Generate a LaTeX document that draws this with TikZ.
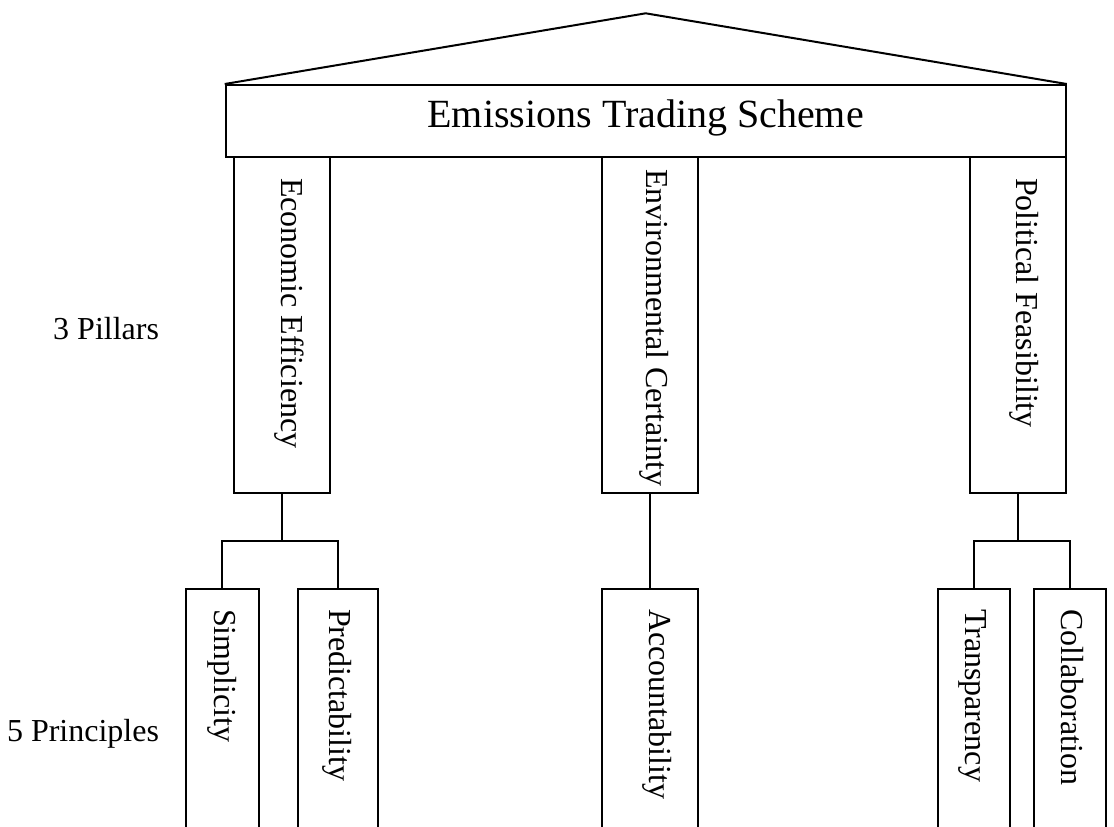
\documentclass[tikz,border=0pt]{standalone}
\usepackage{fontspec}
\setmainfont{Liberation Serif}
\begin{document}
\begin{tikzpicture}[x=0.5pt,y=-0.5pt,
  line width=1pt,
  box/.style={draw, rectangle, inner sep=0pt, line width=1pt},
  vtext/.style={rotate=-90, anchor=west, inner sep=0pt,
    font=\fontsize{16}{19}\selectfont, text height=0.66em, text depth=0.217em},
  sidelabel/.style={anchor=base east, inner sep=0pt, font=\fontsize{16}{19}\selectfont}
]
\useasboundingbox (0,0) rectangle (1114,826);
\clip (0,0) rectangle (1114,826);

% entablature with title
\node[box, minimum width=420pt, minimum height=36pt,
  font=\fontsize{20}{24}\selectfont, text height=0.66em, text depth=0pt]
  (title) at (645.7,121) {Emissions Trading Scheme};
\coordinate (apex) at (645.7,13.3);
\draw[line join=miter] (title.north west) -- (apex) -- (title.north east);

% pillars
\node[box, minimum width=48pt, minimum height=168pt] (pA) at (282,325) {};
\node[box, minimum width=48pt, minimum height=168pt] (pB) at (649.7,325) {};
\node[box, minimum width=48pt, minimum height=168pt] (pC) at (1017.7,325) {};
\node[vtext] (tA) at (286,177) {Economic Efficiency};
\node[vtext] (tB) at (651,168) {Environmental Certainty};
\node[vtext] (tC) at (1020.5,177) {Political Feasibility};

% principles
\node[box, minimum width=36.5pt, minimum height=130.35pt] (simp) at (222.2,719.65) {};
\node[box, minimum width=40pt, minimum height=130.35pt] (pred) at (337.7,719.65) {};
\node[box, minimum width=48pt, minimum height=130.35pt] (acc) at (649.7,719.65) {};
\node[box, minimum width=36.15pt, minimum height=130.35pt] (trans) at (973.9,719.65) {};
\node[box, minimum width=35.85pt, minimum height=130.35pt] (coll) at (1069.9,719.65) {};
\node[vtext] (tsimp) at (219,608) {Simplicity};
\node[vtext] (tpred) at (334,608) {Predictability};
\node[vtext] (tacc) at (654,608) {Accountability};
\node[vtext] (ttrans) at (970,608) {Transparency};
\node[vtext] (tcoll) at (1065.5,608) {Collaboration};

% connectors
\coordinate (jA) at (282,540.7);
\coordinate (jC) at (1017.7,540.7);
\draw (pA.south) -- (jA);
\draw (simp.north) |- (jA) -| (pred.north);
\draw (pB.south) -- (acc.north);
\draw (pC.south) -- (jC);
\draw (trans.north) |- (jC) -| (coll.north);

% side labels
\node[sidelabel] (l3) at (160,339) {3 Pillars};
\node[sidelabel] (l5) at (160,741) {5 Principles};
\end{tikzpicture}
\end{document}
